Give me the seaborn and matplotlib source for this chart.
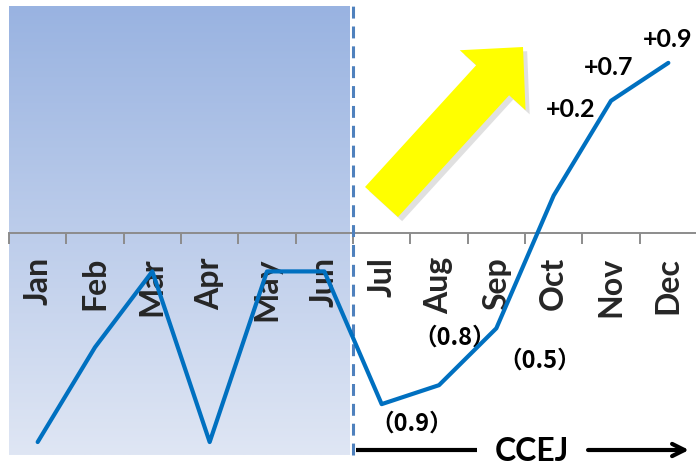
import numpy as np
import pandas as pd
import matplotlib
matplotlib.use("Agg")
import matplotlib.pyplot as plt
import matplotlib.patheffects as pe
import matplotlib.transforms as mtransforms
from matplotlib.patches import FancyArrow
from matplotlib.colors import LinearSegmentedColormap
import seaborn as sns

# ---- data ----
months = ["Jan", "Feb", "Mar", "Apr", "May", "Jun",
          "Jul", "Aug", "Sep", "Oct", "Nov", "Dec"]
values = [-1.1, -0.6, -0.2, -1.1, -0.2, -0.2,
          -0.9, -0.8, -0.5, 0.2, 0.7, 0.9]
point_labels = ["", "", "", "", "", "",
                "（0.9）", "（0.8）", "（0.5）", "+0.2", "+0.7", "+0.9"]
bracket_text = "CCEJ"

# label offsets (points) – styling only
label_offsets = {6: (22, -14), 7: (11, 34), 8: (31, -23),
                 9: (12, 62), 10: (-1.5, 24), 11: (-0.7, 17)}

sns.set_style("white")
plt.rcParams["font.family"] = ["Lato", "Noto Sans CJK JP", "DejaVu Sans"]

W, H = 696, 465
fig = plt.figure(figsize=(W / 100, H / 100), dpi=100)
ax = fig.add_axes([9 / W, 4 / H, 688 / W, 455 / H])

# background gradient for first half
cmap = LinearSegmentedColormap.from_list("bg", ["#dfe6f4", "#99b3e1"])
grad = np.linspace(0, 1, 256).reshape(-1, 1)
ax.imshow(grad, extent=[-0.5, 5.44, -1.168, 1.2], origin="lower",
          aspect="auto", cmap=cmap, zorder=0)

df = pd.DataFrame({"month": months, "value": values})
sns.lineplot(data=df, x="month", y="value", sort=False, color="#0070c0",
             linewidth=3, ax=ax, zorder=4)

ax.set_xlim(-0.5, 11.5)
ax.set_ylim(-1.2, 1.2)
ax.set_xlabel("")
ax.set_ylabel("")

# dashed divider
ax.axvline(5.5, ymin=0.013, ymax=1, color="#4f81bd", lw=2.2,
           ls=(0, (3.9, 2.6)), zorder=3)

# axis styling
for s in ["left", "right", "top"]:
    ax.spines[s].set_visible(False)
ax.spines["bottom"].set_position(("data", 0))
ax.spines["bottom"].set_color("#8c8c8c")
ax.spines["bottom"].set_linewidth(1.4)
ax.set_yticks([])
ax.set_xticks(range(len(months)))
ax.set_xticklabels(months, rotation=90, fontsize=23, fontweight="bold")
ax.set_xticks(np.arange(-0.5, 12, 1), minor=True)
ax.tick_params(axis="x", which="major", bottom=True, length=0, pad=17)
ax.tick_params(axis="x", which="minor", bottom=True, length=8, width=1.4,
               color="#8c8c8c", direction="out")

# data labels
for i, (lab, v) in enumerate(zip(point_labels, values)):
    if lab:
        cjk = lab.startswith("（")
        fam = ["Noto Sans CJK JP"] if cjk else ["Lato"]
        ax.annotate(lab, xy=(i, v), xytext=label_offsets[i],
                    textcoords="offset points", ha="center", va="center",
                    fontsize=17 if cjk else 18,
                    fontweight="bold", family=fam, color="black", zorder=3)

# CCEJ bracket arrow
ax.plot([5.55, 7.66], [-1.142, -1.142], color="black", lw=3,
        solid_capstyle="butt", clip_on=False)
ax.annotate("", xy=(11.36, -1.142), xytext=(9.6, -1.142),
            arrowprops=dict(arrowstyle="->", lw=3, color="black",
                            mutation_scale=22, shrinkA=0, shrinkB=0),
            annotation_clip=False)
ax.text(8.62, -1.2, bracket_text, ha="center", va="baseline",
        fontsize=23, fontweight="bold", color="black")

# yellow trend arrow (pixel coordinates)
tail = (381.5, H - 202)
tip = (523, H - 47)
arrow = FancyArrow(tail[0], tail[1], tip[0] - tail[0], tip[1] - tail[1],
                   width=44.6, head_width=89, head_length=45,
                   length_includes_head=True,
                   transform=mtransforms.IdentityTransform(),
                   facecolor="#ffff00", edgecolor="none",
                   path_effects=[pe.SimplePatchShadow(offset=(3, -3),
                                                      shadow_rgbFace="#9a9a9a",
                                                      alpha=0.3),
                                 pe.Normal()])
fig.add_artist(arrow)

fig.savefig("out.png", dpi=100)
